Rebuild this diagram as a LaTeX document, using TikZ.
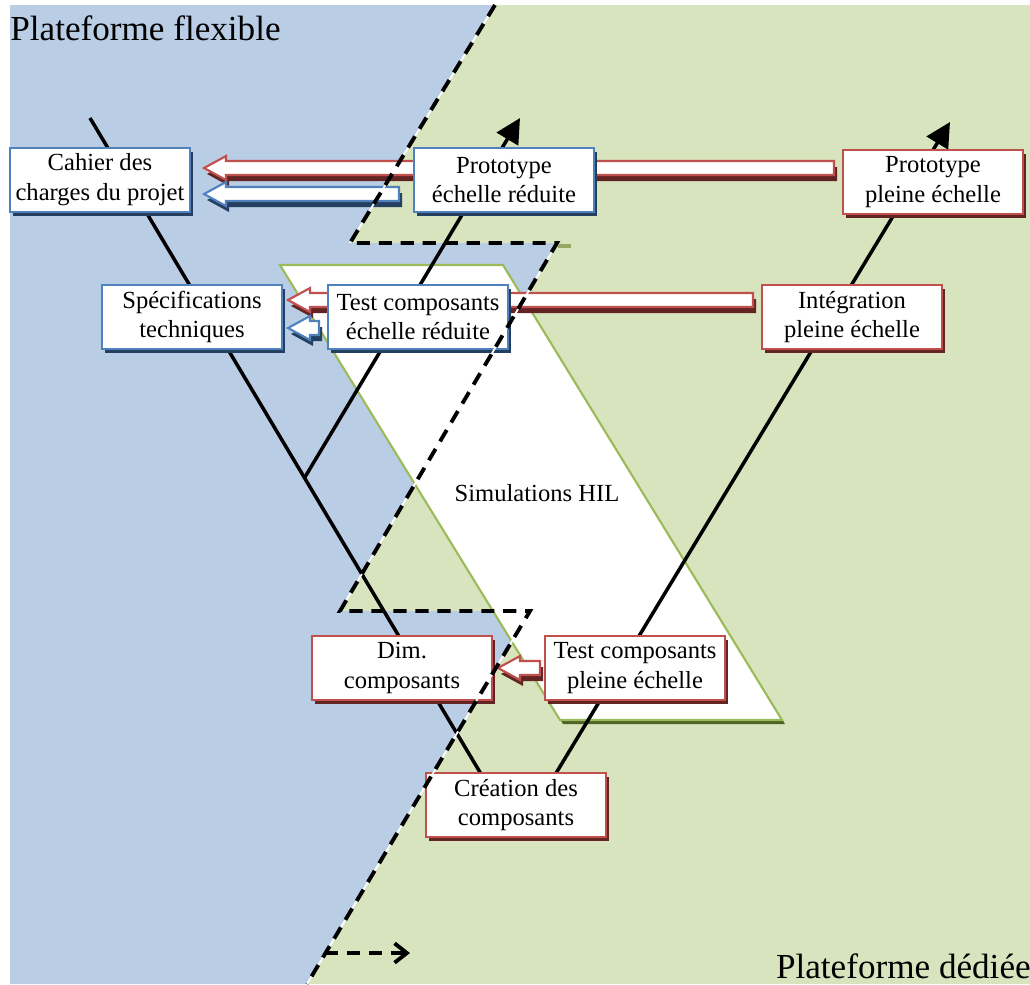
\documentclass[tikz,border=0pt]{standalone}
\usepackage{fontspec}
\setmainfont{Liberation Serif}
\usetikzlibrary{arrows.meta,calc,shadows}

\definecolor{flexblue}{HTML}{B9CDE5}
\definecolor{dedgreen}{HTML}{D7E4BD}
\definecolor{boxblue}{HTML}{4F81BD}
\definecolor{boxred}{HTML}{C0504D}
\definecolor{darkblue}{HTML}{243F60}
\definecolor{darkred}{HTML}{632523}
\definecolor{hilgreen}{HTML}{9BBB59}
\definecolor{darkgreen}{HTML}{4F6228}

\pgfdeclarelayer{back}
\pgfdeclarelayer{behind}
\pgfsetlayers{back,behind,main}

% hollow block arrow pointing left: #1 border, #2 shadow, #3 tip, #4 length
\newcommand{\hollowarrow}[4]{
	\fill[#2] #3 ++(3,6) -- ++(22,-12) -- ++(0,5) -- ++(#4-22,0) -- ++(0,14) -- ++(-#4+22,0) -- ++(0,5) -- cycle;
	\draw[#1,fill=white,line width=1.2pt] #3 -- ++(22,-12) -- ++(0,5) -- ++(#4-22,0) -- ++(0,14) -- ++(-#4+22,0) -- ++(0,5) -- cycle;
}

\begin{document}
\begin{tikzpicture}[
		x=0.02cm,
		y=-0.02cm,
		stage/.style={
			rectangle,
			draw,
			line width=1.2pt,
			fill=white,
			minimum width=3.6cm,
			minimum height=1.28cm,
			inner sep=1pt,
			align=center,
			font=\fontsize{14}{17}\selectfont
		},
		flexstage/.style={
			stage,
			draw=boxblue,
			drop shadow={opacity=1,fill=darkblue,shadow xshift=1.7pt,shadow yshift=-2.3pt}
		},
		dedstage/.style={
			stage,
			draw=boxred,
			drop shadow={opacity=1,fill=darkred,shadow xshift=1.7pt,shadow yshift=-2.3pt}
		},
		vline/.style={line width=2pt,-{Triangle[length=14pt,width=14pt]}},
		boundary/.style={line width=2.2pt,dash pattern=on 7.5pt off 5pt},
		platform/.style={inner sep=0pt,font=\fontsize{20}{24}\selectfont}
		]
		\useasboundingbox (0,0) rectangle (1030,984);
		
		\begin{pgfonlayer}{back}
			% the two platforms
			\fill[dedgreen] (10,5) rectangle (1030,984);
			\fill[flexblue] (10,5) -- (495,5) -- (350,243) -- (557,243) -- (340,611) -- (530,611) -- (307,984) -- (10,984) -- cycle;
			
			% HIL band
			\fill[darkgreen] (283,269) -- (506,269) -- (785,724) -- (563,724) -- cycle;
			\draw[hilgreen,line width=1.2pt,fill=white] (280,265) -- (503,265) -- (782,720) -- (560,720) -- cycle;
			
			% the V cycle
			\coordinate (vtop) at (90,118);
			\coordinate (vbottom) at (518,836);
			\coordinate (junction) at (305,477);
			\coordinate (smalltop) at (520,118);
			\coordinate (bigtop) at (950,122);
			\draw[vline] (vtop) -- (vbottom) -- (bigtop);
			\draw[vline] (junction) -- (smalltop);
		\end{pgfonlayer}
		
		\node[flexstage] (cahier) at (100,180) {Cahier des\\charges du projet};
		\node[flexstage] (protoR) at (504,180) {Prototype\\échelle réduite};
		\node[dedstage] (protoP) at (933,182) {Prototype\\pleine échelle};
		\node[flexstage] (specs) at (192,317) {Spécifications\\techniques};
		\node[flexstage] (testR) at (418,317) {Test composants\\échelle réduite};
		\node[dedstage] (integ) at (852,317) {Intégration\\pleine échelle};
		\node[dedstage] (dim) at (402,668) {Dim.\\composants};
		\node[dedstage] (testP) at (635,668) {Test composants\\pleine échelle};
		\node[dedstage] (creation) at (516,805) {Création des\\composants};
		\node[font=\fontsize{14}{17}\selectfont] (hil) at (537,493) {Simulations HIL};
		
		\begin{pgfonlayer}{behind}
			\hollowarrow{boxred}{darkred}{($(cahier.east)+(13,-12)$)}{630}
			\hollowarrow{boxblue}{darkblue}{($(cahier.east)+(13,14)$)}{195}
			\hollowarrow{boxred}{darkred}{($(specs.east)+(5,-17)$)}{465}
			\hollowarrow{boxblue}{darkblue}{($(specs.east)+(5,11)$)}{31}
			\hollowarrow{boxred}{darkred}{($(dim.east)+(5,0)$)}{42}
		\end{pgfonlayer}
		
		% boundary between the platforms
		\draw[white,line width=1pt] (495,5) -- (350,243) (557,243) -- (340,611) (530,611) -- (307,984);
		\draw[boundary] (495,5) -- (350,243) -- (557,243) -- (340,611) -- (530,611) -- (307,984);
		\draw[hilgreen!70!gray,line width=2pt] (558,246) -- (571,246);
		\coordinate (shiftstart) at (325,953);
		\coordinate (shiftend) at (410,953);
		\draw[boundary,-{Straight Barb[length=7pt,width=11pt]}] (shiftstart) -- (shiftend);
		
		\node[platform,anchor=base west] (flexlabel) at (10,40) {Plateforme flexible};
		\node[platform,anchor=base east] (dedlabel) at (1031,978) {Plateforme dédiée};
\end{tikzpicture}
\end{document}
